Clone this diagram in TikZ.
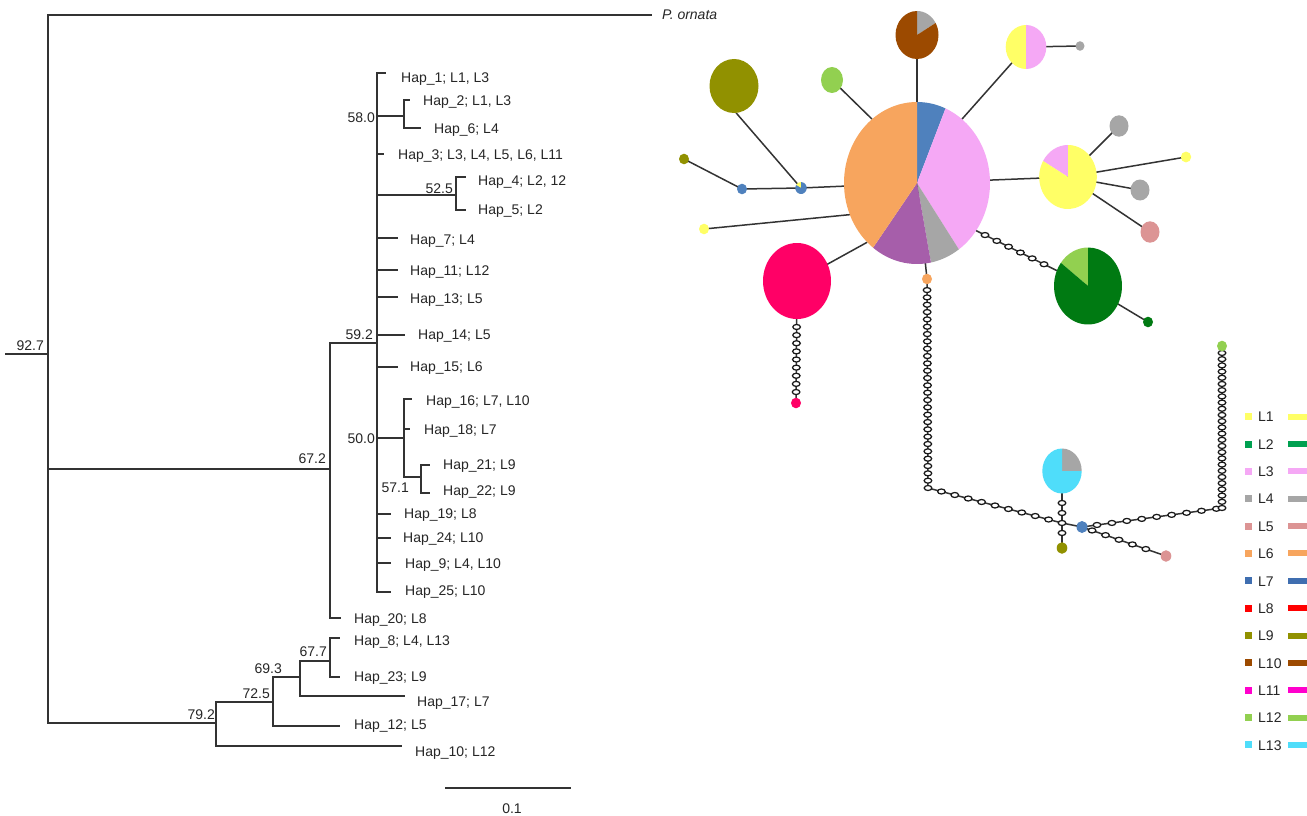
\documentclass[tikz,border=0pt]{standalone}
\usepackage{fontspec}
\setmainfont{Liberation Sans}
\usetikzlibrary{calc,shapes.geometric}
\definecolor{tgray}{HTML}{333333}
\definecolor{txt}{HTML}{262626}
\definecolor{cYel}{HTML}{FFFF66}
\definecolor{cPink}{HTML}{F5A8F5}
\definecolor{cGray}{HTML}{A6A6A6}
\definecolor{cOrange}{HTML}{F7A55E}
\definecolor{cBlue}{HTML}{4F81BD}
\definecolor{cPurple}{HTML}{A65EAA}
\definecolor{cBrown}{HTML}{9C4A00}
\definecolor{cOlive}{HTML}{919100}
\definecolor{cLGreen}{HTML}{92D050}
\definecolor{cCrim}{HTML}{FF0066}
\definecolor{cDGreen}{HTML}{007A12}
\definecolor{cCyan}{HTML}{4FDDFA}
\definecolor{cRose}{HTML}{DC9494}
\definecolor{lGreen}{HTML}{00A050}
\definecolor{lBlue}{HTML}{3F6EB0}
\definecolor{lRed}{HTML}{FF0000}
\definecolor{lMag}{HTML}{FF00CC}
\newcommand\pslice[6]{\fill[#6] (#1) -- ++(#4:#2pt and #3pt) arc[start angle=#4, end angle=#5, x radius=#2pt, y radius=#3pt] -- cycle;}
\newcommand\pdisc[4]{\fill[#4] (#1) ellipse[x radius=#2pt, y radius=#3pt];}
\newcommand\ovalchain[5]{\foreach \k in {0,...,#5}{\node[oval] (ov-#1-#2-\k) at ($(#1)!{#3+(#4-#3)*\k/#5}!(#2)$) {};}}
\begin{document}
\begin{tikzpicture}[x=1pt,y=-1pt,
  tl/.style={line width=1.3pt, draw=tgray},
  nl/.style={line width=1.5pt, draw=tgray},
  lab/.style={font=\fontsize{14}{16}\selectfont, inner sep=0pt, text=txt, anchor=base west},
  bs/.style={font=\fontsize{14}{16}\selectfont, inner sep=0pt, text=txt, anchor=base east},
  oval/.style={ellipse, draw=black!90, fill=white, line width=1.25pt, minimum width=7.6pt, minimum height=5pt, inner sep=0pt}]
\useasboundingbox (0,0) rectangle (1307,816);
\fill[white] (0,0) rectangle (1307,816);
% ---------------- tree ----------------
\coordinate (Rs) at (5,354);
\coordinate (R) at (48,354);
\coordinate (Po) at (652,15);
\coordinate (M67) at (330,469);
\coordinate (M59) at (377,343);
\coordinate (H20) at (341,618);
\coordinate (H1) at (386,73);
\coordinate (N58) at (404,116);
\coordinate (H2) at (410,100);
\coordinate (H6) at (421,128);
\coordinate (H3) at (384,154);
\coordinate (N52) at (456,195);
\coordinate (H4) at (466,177);
\coordinate (H5) at (466,210);
\coordinate (H7) at (398,238);
\coordinate (H11) at (398,270);
\coordinate (H13) at (398,297);
\coordinate (H14) at (405,335);
\coordinate (H15) at (398,367);
\coordinate (N50) at (404,438);
\coordinate (H16) at (412,399);
\coordinate (H18) at (410,429);
\coordinate (N57) at (421,477);
\coordinate (H21) at (430,465);
\coordinate (H22) at (430,493);
\coordinate (H19) at (391,514);
\coordinate (H24) at (391,538);
\coordinate (H9) at (391,563);
\coordinate (H25) at (391,592);
\coordinate (B79) at (216,723);
\coordinate (N72) at (273,702);
\coordinate (H10) at (402,746);
\coordinate (N69) at (300,677);
\coordinate (H12) at (340,726);
\coordinate (N67) at (330,661);
\coordinate (H17) at (405,696);
\coordinate (H8) at (340,638);
\coordinate (H23) at (340,677);
\draw[tl] (Rs) -- (R);
\foreach \c in {Po,M67,B79} \draw[tl] (R) |- (\c);
\foreach \c in {M59,H20} \draw[tl] (M67) |- (\c);
\foreach \c in {H1,N58,H3,N52,H7,H11,H13,H14,H15,N50,H19,H24,H9,H25} \draw[tl] (M59) |- (\c);
\foreach \c in {H2,H6} \draw[tl] (N58) |- (\c);
\foreach \c in {H4,H5} \draw[tl] (N52) |- (\c);
\foreach \c in {H16,H18,N57} \draw[tl] (N50) |- (\c);
\foreach \c in {H21,H22} \draw[tl] (N57) |- (\c);
\foreach \c in {N72,H10} \draw[tl] (B79) |- (\c);
\foreach \c in {N69,H12} \draw[tl] (N72) |- (\c);
\foreach \c in {N67,H17} \draw[tl] (N69) |- (\c);
\foreach \c in {H8,H23} \draw[tl] (N67) |- (\c);
% tip labels
\node[lab] (tPo) at (662,20) {\itshape P. ornata};
\node[lab] (t1) at (401,82) {Hap\_1; L1, L3};
\node[lab] (t2) at (423,106) {Hap\_2; L1, L3};
\node[lab] (t6) at (434,133) {Hap\_6; L4};
\node[lab] (t3) at (398,159) {Hap\_3; L3, L4, L5, L6, L11};
\node[lab] (t4) at (478,185) {Hap\_4; L2, 12};
\node[lab] (t5) at (478,214) {Hap\_5; L2};
\node[lab] (t7) at (410,244) {Hap\_7; L4};
\node[lab] (t11) at (410,275) {Hap\_11; L12};
\node[lab] (t13) at (410,303) {Hap\_13; L5};
\node[lab] (t14) at (418,339) {Hap\_14; L5};
\node[lab] (t15) at (410,371) {Hap\_15; L6};
\node[lab] (t16) at (426,405) {Hap\_16; L7, L10};
\node[lab] (t18) at (424,434) {Hap\_18; L7};
\node[lab] (t21) at (443,469) {Hap\_21; L9};
\node[lab] (t22) at (443,495) {Hap\_22; L9};
\node[lab] (t19) at (404,518) {Hap\_19; L8};
\node[lab] (t24) at (403,542) {Hap\_24; L10};
\node[lab] (t9) at (405,568) {Hap\_9; L4, L10};
\node[lab] (t25) at (405,595) {Hap\_25; L10};
\node[lab] (t20) at (354,623) {Hap\_20; L8};
\node[lab] (t8) at (354,645) {Hap\_8; L4, L13};
\node[lab] (t23) at (354,681) {Hap\_23; L9};
\node[lab] (t17) at (417,706) {Hap\_17; L7};
\node[lab] (t12) at (354,729) {Hap\_12; L5};
\node[lab] (t10) at (415,756) {Hap\_10; L12};
% bootstrap values
\node[bs] (b927) at (44,350) {92.7};
\node[bs] (b672) at (326,463) {67.2};
\node[bs] (b592) at (373,339) {59.2};
\node[bs] (b580) at (375,122) {58.0};
\node[bs] (b525) at (453,193) {52.5};
\node[bs] (b500) at (375,443) {50.0};
\node[bs] (b571) at (409,492) {57.1};
\node[bs] (b677) at (327,656) {67.7};
\node[bs] (b693) at (282,673) {69.3};
\node[bs] (b725) at (270,698) {72.5};
\node[bs] (b792) at (215,719) {79.2};
% scale bar
\coordinate (sb1) at (445,788);
\coordinate (sb2) at (571,788);
\draw[tl] (sb1) -- (sb2);
\node[lab, anchor=base] (sbl) at (512,813) {0.1};
% ---------------- network ----------------
\coordinate (big) at (917,183);
\coordinate (brown) at (917,35);
\coordinate (lg) at (832,80);
\coordinate (olbig) at (734,86);
\coordinate (bp) at (801,188);
\coordinate (bl1) at (742,189);
\coordinate (ol1) at (684,159);
\coordinate (y1) at (704,229);
\coordinate (crim) at (797,281);
\coordinate (crimdot) at (796,403);
\coordinate (ypk) at (1026,47);
\coordinate (gd1) at (1080,46);
\coordinate (ypie) at (1068,177);
\coordinate (g2) at (1119,126);
\coordinate (y2) at (1186,157);
\coordinate (g3) at (1140,190);
\coordinate (r1) at (1150,232);
\coordinate (gpie) at (1088,286);
\coordinate (gd2) at (1148,322);
\coordinate (od) at (927,279);
\coordinate (c1) at (928,488);
\coordinate (jn) at (1062,523);
\coordinate (cyan) at (1062,471);
\coordinate (old2) at (1062,548);
\coordinate (bl2) at (1082,527);
\coordinate (c2) at (1222,508);
\coordinate (lgd) at (1222,346);
\coordinate (r2) at (1166,556);
\coordinate (bE128) at ($(big)+(128:73pt and 81pt)$);
\coordinate (bE52) at ($(big)+(52:73pt and 81pt)$);
\coordinate (bE203) at ($(big)+(203:73pt and 81pt)$);
\coordinate (bE227) at ($(big)+(227:73pt and 81pt)$);
\coordinate (bE324) at ($(big)+(-36:73pt and 81pt)$);
\coordinate (olE) at ($(olbig)+(-85:24.5pt and 27pt)$);
% plain connectors
\draw[nl] (brown) -- (big);
\draw[nl] (lg) -- (bE128);
\draw[nl] (olE) -- (bp);
\draw[nl] (bp) -- (big);
\draw[nl] (bp) -- (bl1);
\draw[nl] (bl1) -- (ol1);
\draw[nl] (y1) -- (bE203);
\draw[nl] (crim) -- (bE227);
\draw[nl] (ypk) -- (bE52);
\draw[nl] (ypk) -- (gd1);
\draw[nl] (ypie) -- (big);
\draw[nl] (ypie) -- (g2);
\draw[nl] (ypie) -- (y2);
\draw[nl] (ypie) -- (g3);
\draw[nl] (ypie) -- (r1);
\draw[nl] (gpie) -- (gd2);
\draw[nl] (big) -- (od);
\draw[nl] (jn) -- (bl2);
% chained connectors
\draw[nl] (crim) -- (crimdot);
\draw[nl] (od) -- (c1) -- (jn);
\draw[nl] (cyan) -- (old2);
\draw[nl] (bl2) -- (c2) -- (lgd);
\draw[nl] (bl2) -- (r2);
\draw[nl] (bE324) -- (gpie);
\ovalchain{crim}{crimdot}{0.377}{0.91}{8}
\ovalchain{od}{c1}{0.053}{1}{27}
\ovalchain{c1}{jn}{0.1}{0.9}{8}
\ovalchain{cyan}{old2}{0.4156}{0.805}{3}
\ovalchain{bl2}{c2}{0.107}{0.96}{8}
\ovalchain{c2}{lgd}{0}{0.957}{25}
\ovalchain{bl2}{r2}{0.12}{0.76}{4}
\ovalchain{bE324}{gpie}{0.08}{0.607}{5}
% pies
\pslice{big}{73}{81}{67}{90}{cBlue}
\pslice{big}{73}{81}{-55}{67}{cPink}
\pslice{big}{73}{81}{-79}{-55}{cGray}
\pslice{big}{73}{81}{-127}{-79}{cPurple}
\pslice{big}{73}{81}{90}{233}{cOrange}
\pslice{brown}{21.5}{24}{30}{90}{cGray}
\pslice{brown}{21.5}{24}{90}{390}{cBrown}
\pdisc{lg}{11}{13}{cLGreen}
\pdisc{olbig}{24.5}{27}{cOlive}
\pslice{bp}{5.7}{6}{90}{150}{cYel}
\pslice{bp}{5.7}{6}{150}{450}{cBlue}
\pdisc{bl1}{5}{5.3}{cBlue}
\pdisc{ol1}{5}{5.3}{cOlive}
\pdisc{y1}{5}{5.3}{cYel}
\pdisc{crim}{34}{38}{cCrim}
\pdisc{crimdot}{5}{5.3}{cCrim}
\pslice{ypk}{20.3}{22}{90}{270}{cYel}
\pslice{ypk}{20.3}{22}{-90}{90}{cPink}
\pdisc{gd1}{4.5}{4.8}{cGray}
\pslice{ypie}{28.8}{32}{90}{150}{cPink}
\pslice{ypie}{28.8}{32}{150}{450}{cYel}
\pdisc{g2}{9.5}{10.7}{cGray}
\pdisc{y2}{5.2}{5.4}{cYel}
\pdisc{g3}{9.5}{10.5}{cGray}
\pdisc{r1}{9.5}{10.7}{cRose}
\pslice{gpie}{34}{38.5}{90}{143}{cLGreen}
\pslice{gpie}{34}{38.5}{143}{450}{cDGreen}
\pdisc{gd2}{5}{5.3}{cDGreen}
\pdisc{od}{5}{5.3}{cOrange}
\pslice{cyan}{19.7}{22.5}{0}{90}{cGray}
\pslice{cyan}{19.7}{22.5}{90}{360}{cCyan}
\pdisc{old2}{5.3}{5.8}{cOlive}
\pdisc{bl2}{5.5}{6}{cBlue}
\pdisc{lgd}{5}{5.3}{cLGreen}
\pdisc{r2}{5.3}{5.8}{cRose}
% ---------------- legend ----------------
\foreach \lab/\col [count=\i from 0] in {L1/cYel,L2/lGreen,L3/cPink,L4/cGray,L5/cRose,L6/cOrange,L7/lBlue,L8/lRed,L9/cOlive,L10/cBrown,L11/lMag,L12/cLGreen,L13/cCyan}{
  \pgfmathsetmacro\yy{416.7+27.35*\i}
  \fill[\col] (1245,\yy-3.5) rectangle (1252,\yy+3.5);
  \node[lab] (leg\i) at (1258,\yy+5.2) {\lab};
  \fill[\col] (1288,\yy-3) rectangle (1307,\yy+3);
}
\end{tikzpicture}
\end{document}
